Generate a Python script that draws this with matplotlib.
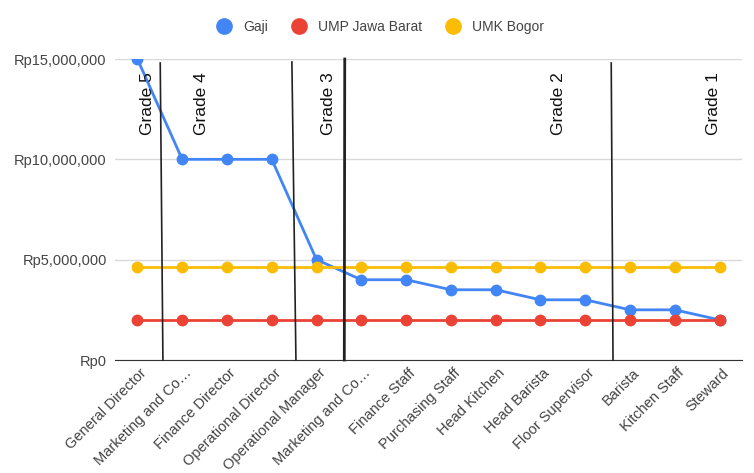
import numpy as np
import matplotlib
matplotlib.use("Agg")
import matplotlib.pyplot as plt
import matplotlib.ticker as mticker
import matplotlib.transforms as mtrans
from matplotlib.lines import Line2D

plt.rcParams["font.family"] = ["Liberation Sans", "DejaVu Sans"]

jabatan = ["General Director", "Marketing and Co\u2026", "Finance Director",
           "Operational Director", "Operational Manager", "Marketing and Co\u2026",
           "Finance Staff", "Purchasing Staff", "Head Kitchen", "Head Barista",
           "Floor Supervisor", "Barista", "Kitchen Staff", "Steward"]
gaji = [15000000, 10000000, 10000000, 10000000, 5000000, 4000000, 4000000,
        3500000, 3500000, 3000000, 3000000, 2500000, 2500000, 2000000]
ump_jabar = [1986670] * len(jabatan)
umk_bogor = [4639429] * len(jabatan)

# grade separators (x bottom, x top, y top) and grade labels
sep_lines = [(0.57, 0.51, 14.8e6), (3.54, 3.45, 14.85e6),
             (4.62, 4.63, 15.0e6), (10.62, 10.58, 14.8e6)]
sep_width = [1.2, 1.2, 2.0, 1.2]
grades = ["Grade 5", "Grade 4", "Grade 3", "Grade 2", "Grade 1"]
grade_x = [0.22, 1.43, 4.27, 9.4, 12.86]

c_gaji = "#4285F4"
c_ump = "#EA4335"
c_umk = "#FBBC04"

fig = plt.figure(figsize=(7.54, 4.73), dpi=100)
ax = fig.add_axes([115/754, 113/473, 627/754, 301/473])

x = np.arange(len(jabatan))
for vals, col, lab in [(gaji, c_gaji, "Gaji"), (ump_jabar, c_ump, "UMP Jawa Barat"),
                       (umk_bogor, c_umk, "UMK Bogor")]:
    ax.plot(x, vals, color=col, lw=2, marker="o", ms=7.5, label=lab, zorder=3)

for (xb, xt, yt), w in zip(sep_lines, sep_width):
    ax.plot([xb, xt], [0, yt], color="#222222", lw=w, zorder=4, clip_on=False)

for g, gx in zip(grades, grade_x):
    ax.text(gx, 14.35e6, g, rotation=90, ha="center", va="top",
            fontsize=12.5, color="#111111", zorder=5)

ax.set_xlim(-0.5, len(jabatan) - 0.5)
ax.set_ylim(0, 15e6)
ax.yaxis.set_major_locator(mticker.MultipleLocator(5e6))
ax.yaxis.set_major_formatter(mticker.FuncFormatter(lambda v, p: "Rp{:,.0f}".format(v)))
ax.grid(axis="y", color="#d9d9d9", lw=1, zorder=0)
ax.set_axisbelow(True)
for s in ["top", "right", "left"]:
    ax.spines[s].set_visible(False)
ax.spines["bottom"].set_color("#333333")
ax.spines["bottom"].set_zorder(2)
ax.tick_params(axis="both", length=0, colors="#444444", labelsize=10.5)
ax.tick_params(axis="y", pad=6)

ax.set_xticks(x)
ax.set_xticklabels(jabatan, rotation=45, ha="right", va="top", rotation_mode="anchor")
offset = mtrans.ScaledTranslation(2/100, -1/100, fig.dpi_scale_trans)
for t in ax.get_xticklabels():
    t.set_transform(t.get_transform() + offset)

handles = [Line2D([], [], color=c, marker="o", ls="none", ms=11)
           for c in (c_gaji, c_ump, c_umk)]
fig.legend(handles, ["Gaji", "UMP Jawa Barat", "UMK Bogor"], loc="center",
           bbox_to_anchor=(0.5, 1 - 27/473), ncol=3, frameon=False,
           fontsize=10, handletextpad=0.4, columnspacing=1.2,
           labelcolor="#444444")

fig.savefig("out.png", dpi=100)
